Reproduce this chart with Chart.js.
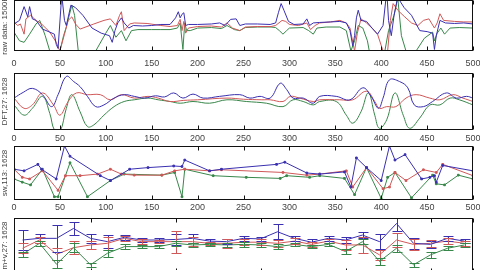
<!DOCTYPE html>
<html>
<head>
<meta charset="utf-8">
<title>raw / DFT / sw / m+v</title>
<script src="https://cdn.jsdelivr.net/npm/chart.js@4.4.0/dist/chart.umd.min.js"></script>
<style>
  html, body { margin: 0; padding: 0; background: #fff; overflow: hidden; }
  body { width: 480px; height: 270px; position: relative; }
  canvas { position: absolute; left: 0; }
</style>
</head>
<body>
<canvas id="rawChart" width="480" height="67" style="top:0px"></canvas>
<canvas id="dftChart" width="480" height="72" style="top:70px"></canvas>
<canvas id="swChart" width="480" height="71" style="top:141px"></canvas>
<canvas id="mvChart" width="480" height="73" style="top:215px"></canvas>
<script>
// Raw data, [index, value] (value 0 = bottom of box, 100 = top)
const rawBlue = [[0,53],[6,60],[11,87],[15,67],[17,87],[20,63],[24,60],[31,43],[39,37],[44,33],[46,13],[48,5],[52,110],[55,60],[57,50],[62,90],[67,85],[75,70],[85,45],[95,35],[104,30],[107,17],[110,40],[113,55],[117,65],[120,55],[125,45],[130,50],[140,49],[150,50],[160,52],[170,52],[176,65],[179,77],[181,65],[183,72],[185,75],[187,50],[190,52],[200,52],[215,53],[224,55],[230,50],[236,62],[242,63],[246,50],[252,53],[265,53],[279,52],[285,55],[288,75],[291,93],[294,80],[299,58],[305,52],[315,53],[319,63],[322,50],[326,55],[333,56],[345,57],[355,58],[362,55],[366,40],[369,10],[371,30],[373,65],[375,80],[378,60],[384,58],[390,45],[396,33],[402,50],[405,100],[406,120],[408,60],[411,30],[414,70],[418,105],[425,85],[433,70],[442,40],[450,38],[456,35],[458,3],[460,30],[464,60],[470,55],[480,54],[490,55],[500,53]];
const rawRed = [[0,57],[4,50],[7,53],[11,33],[13,63],[18,70],[24,60],[30,53],[39,37],[46,17],[50,0],[55,33],[59,60],[63,67],[67,53],[72,43],[87,53],[98,60],[105,63],[111,50],[115,70],[117,77],[120,40],[126,53],[131,55],[145,54],[160,50],[170,48],[178,50],[181,62],[183,40],[185,58],[187,35],[190,45],[200,48],[215,49],[226,47],[232,55],[238,45],[246,40],[252,47],[265,48],[280,48],[285,50],[292,60],[296,58],[300,52],[310,50],[319,55],[323,42],[328,50],[333,55],[345,57],[355,60],[362,55],[366,45],[371,0],[374,35],[378,63],[384,55],[390,45],[396,33],[402,0],[407,0],[410,60],[413,93],[418,80],[425,68],[433,55],[440,50],[446,60],[452,63],[458,45],[461,55],[464,73],[468,60],[480,58],[490,57],[500,57]];
const rawGreen = [[0,37],[6,20],[11,17],[17,33],[24,53],[28,60],[34,30],[39,0],[50,0],[54,30],[57,47],[63,90],[66,70],[70,0],[89,0],[100,35],[105,50],[111,27],[117,40],[122,20],[128,40],[135,42],[150,42],[160,42],[170,42],[178,45],[181,55],[184,3],[186,55],[188,40],[192,40],[200,45],[215,46],[226,44],[232,50],[240,42],[246,40],[252,46],[265,47],[280,47],[285,46],[289,40],[293,33],[297,40],[300,45],[315,46],[321,40],[326,33],[330,45],[340,47],[355,47],[362,40],[367,0],[371,20],[375,50],[380,45],[385,20],[387,0],[404,0],[408,40],[414,70],[418,105],[422,30],[427,0],[438,0],[447,25],[456,37],[458,20],[461,35],[465,45],[469,33],[475,45],[485,46],[500,45]];

// DFT smoothed curves
const dftBlue = [[0,56],[10,66],[20,73],[31,62],[41,41],[48,62],[57,94],[65,85],[72,76],[80,59],[89,41],[98,44],[109,56],[120,62],[131,59],[142,56],[154,60],[164,58],[174,65],[184,56],[195,63],[206,56],[224,59],[246,62],[257,56],[268,59],[279,56],[290,82],[297,71],[304,56],[315,56],[326,47],[333,59],[351,59],[366,53],[380,74],[389,59],[397,38],[402,56],[409,88],[420,85],[429,74],[436,44],[446,41],[456,50],[471,65],[482,56],[493,59],[500,56]];
const dftRed = [[0,56],[11,38],[20,44],[31,65],[43,44],[50,26],[59,50],[68,65],[80,62],[94,62],[105,53],[117,62],[131,56],[146,59],[157,56],[170,50],[185,52],[200,53],[232,56],[250,54],[270,53],[279,53],[293,50],[301,59],[311,56],[326,50],[333,53],[355,53],[369,53],[384,68],[393,50],[398,38],[406,41],[416,41],[427,56],[438,62],[453,56],[464,53],[478,62],[489,56],[500,50]];
const dftGreen = [[0,44],[11,26],[20,38],[31,59],[39,29],[44,0],[50,-3],[57,38],[63,62],[72,32],[80,6],[87,9],[98,26],[109,41],[120,50],[131,53],[146,56],[157,53],[170,50],[181,47],[195,50],[213,47],[232,53],[253,50],[275,47],[293,41],[304,53],[315,50],[326,44],[333,50],[351,50],[362,26],[369,12],[378,32],[386,65],[393,26],[398,3],[406,18],[415,65],[424,26],[431,3],[442,21],[453,44],[464,44],[475,56],[485,53],[500,44]];

// Switching points
const swBlue = [[0,57],[11,54],[26,66],[30,57],[46,39],[55,100],[61,81],[94,45],[105,36],[126,57],[146,60],[174,63],[183,62],[186,74],[213,54],[226,57],[286,66],[295,70],[319,50],[333,48],[360,52],[367,24],[373,78],[384,60],[400,36],[409,100],[415,74],[426,84],[444,39],[453,42],[458,45],[460,33],[467,64],[500,54]];
const swRed = [[0,57],[9,42],[17,39],[31,54],[48,18],[56,45],[72,45],[91,48],[105,57],[117,48],[131,46],[161,46],[175,54],[186,57],[213,54],[226,56],[293,51],[319,46],[333,48],[362,54],[369,24],[384,60],[402,21],[409,24],[415,51],[427,36],[446,56],[460,51],[467,66],[500,45]];
const swGreen = [[0,39],[9,33],[18,28],[31,57],[44,6],[48,6],[61,69],[80,6],[105,36],[120,48],[161,46],[175,51],[183,6],[186,57],[217,45],[253,42],[290,40],[297,45],[322,42],[333,45],[360,40],[371,10],[384,60],[400,3],[407,42],[415,51],[433,4],[456,46],[460,30],[469,28],[484,46],[500,39]];

// Mean + variation per window
const windows = [1,2,3,4,5,6,7,8,9,10,11,12,13,14,15,16,17,18,19,20,21,22,23,24,25,26,27];
const mvBlue = [60,63,63,81,63,57,65,60,60,61,63,58,57,63,62,75,63,56,63,60,69,57,90,54,52,63,58];
const mvRed = [45,60,34,46,51,54,63,57,57,57,57,54,54,56,56,54,58,52,58,51,51,33,60,52,54,58,54];
const mvGreen = [34,54,16,46,15,36,48,48,48,54,51,52,51,52,51,48,52,48,52,39,57,21,45,15,33,45,51];
const errBlue = [18,8,25,11,8,12,5,4,3,10,8,3,5,5,3,14,5,5,4,6,6,14,14,10,6,5,4];
const errRed = [9,6,11,12,8,12,5,4,3,20,8,3,8,5,5,6,5,5,4,9,15,9,12,10,6,5,4];
const errGreen = [5,5,7,8,4,6,4,3,3,5,4,3,4,4,3,4,3,3,3,5,5,6,6,4,5,4,3];

const BLUE = '#3a30b0';
const RED = '#d05858';
const GREEN = '#38874a';
const FONT = "'Liberation Sans', Arial, sans-serif";
const BOX_LEFT = 14;
const BOX_RIGHT = 473;

// Frame round the plot area with inward ticks (matlab look)
const boxPlugin = {
  id: 'box',
  afterDatasetsDraw(chart) {
    const { ctx, chartArea: a, scales } = chart;
    ctx.save();
    ctx.strokeStyle = '#111';
    ctx.lineWidth = 1;
    const l = Math.round(a.left) + 0.5, t = Math.round(a.top) + 0.5;
    const r = Math.round(a.right) - 0.5, b = Math.round(a.bottom) - 0.5;
    ctx.strokeRect(l, t, r - l, b - t);
    ctx.beginPath();
    scales.x.ticks.forEach(tick => {
      const px = Math.round(scales.x.getPixelForValue(tick.value)) + 0.5;
      ctx.moveTo(px, b); ctx.lineTo(px, b - 4);
      ctx.moveTo(px, t); ctx.lineTo(px, t + 4);
    });
    ctx.stroke();
    ctx.restore();
  }
};

// Vertical error bars with caps, taken from dataset.errors
const errorBarPlugin = {
  id: 'errorBars',
  afterDatasetsDraw(chart) {
    const { ctx, chartArea: a, scales } = chart;
    ctx.save();
    ctx.beginPath();
    ctx.rect(a.left, a.top, a.right - a.left, a.bottom - a.top);
    ctx.clip();
    chart.data.datasets.forEach(ds => {
      if (!ds.errors) return;
      ctx.strokeStyle = ds.borderColor;
      ctx.lineWidth = 1;
      ctx.beginPath();
      ds.data.forEach((p, j) => {
        const x = Math.round(scales.x.getPixelForValue(p.x)) + 0.5;
        const y1 = Math.round(scales.y.getPixelForValue(p.y + ds.errors[j])) + 0.5;
        const y2 = Math.round(scales.y.getPixelForValue(p.y - ds.errors[j])) + 0.5;
        ctx.moveTo(x, y1); ctx.lineTo(x, y2);
        ctx.moveTo(x - 5, y1); ctx.lineTo(x + 5, y1);
        ctx.moveTo(x - 5, y2); ctx.lineTo(x + 5, y2);
      });
      ctx.stroke();
    });
    ctx.restore();
  }
};

function panelOptions(title, xMin, xMax, step, topPad, axisH, labelPad) {
  return {
    responsive: false,
    animation: false,
    layout: { padding: { top: topPad, right: 480 - BOX_RIGHT, left: 0, bottom: 0 } },
    plugins: { legend: { display: false }, tooltip: { enabled: false } },
    elements: { point: { radius: 0 }, line: { borderWidth: 1, tension: 0 } },
    scales: {
      x: {
        type: 'linear', min: xMin, max: xMax,
        grid: { display: false, drawTicks: false },
        border: { display: false },
        ticks: { stepSize: step, padding: labelPad, autoSkip: false, maxRotation: 0, color: '#444', font: { family: FONT, size: 9 } },
        afterFit: s => { s.height = axisH; s.paddingLeft = 0; s.paddingRight = 0; }
      },
      y: {
        min: 0, max: 100,
        grid: { display: false, drawTicks: false },
        border: { display: false },
        ticks: { display: false },
        title: { display: true, text: title, padding: 0, color: '#444', font: { family: FONT, size: 8 } },
        afterFit: s => { s.width = BOX_LEFT; }
      }
    }
  };
}

function lineSet(data, color, extra) {
  return Object.assign({ data: data, borderColor: color, backgroundColor: color, fill: false }, extra || {});
}

// Panel 1: raw data
new Chart(document.getElementById('rawChart'), {
  type: 'line',
  data: { datasets: [lineSet(rawBlue, BLUE), lineSet(rawRed, RED), lineSet(rawGreen, GREEN)] },
  options: panelOptions('raw data: 1500E', 0, 500, 50, 0, 16, 7),
  plugins: [boxPlugin]
});

// Panel 2: DFT
new Chart(document.getElementById('dftChart'), {
  type: 'line',
  data: { datasets: [
    lineSet(dftBlue, BLUE, { tension: 0.4 }),
    lineSet(dftRed, RED, { tension: 0.4 }),
    lineSet(dftGreen, GREEN, { tension: 0.4 })
  ] },
  options: panelOptions('DFT,27: 1628', 0, 500, 50, 3, 12, 3),
  plugins: [boxPlugin]
});

// Panel 3: switching points with markers
const marker = { pointRadius: 1.2, pointStyle: 'rect' };
new Chart(document.getElementById('swChart'), {
  type: 'line',
  data: { datasets: [lineSet(swBlue, BLUE, marker), lineSet(swRed, RED, marker), lineSet(swGreen, GREEN, marker)] },
  options: panelOptions('sw,113: 1628', 0, 500, 50, 3, 12, 2),
  plugins: [boxPlugin]
});

// Panel 4: mean and variation per window
const toPoints = vals => windows.map((w, i) => ({ x: w, y: vals[i] }));
new Chart(document.getElementById('mvChart'), {
  type: 'line',
  data: { datasets: [
    lineSet(toPoints(mvBlue), BLUE, { errors: errBlue }),
    lineSet(toPoints(mvRed), RED, { errors: errRed }),
    lineSet(toPoints(mvGreen), GREEN, { errors: errGreen })
  ] },
  options: panelOptions('m+v,27: 1628', 0.5, 27.5, 5, 3, 15, 3),
  plugins: [errorBarPlugin, boxPlugin]
});
</script>
</body>
</html>
